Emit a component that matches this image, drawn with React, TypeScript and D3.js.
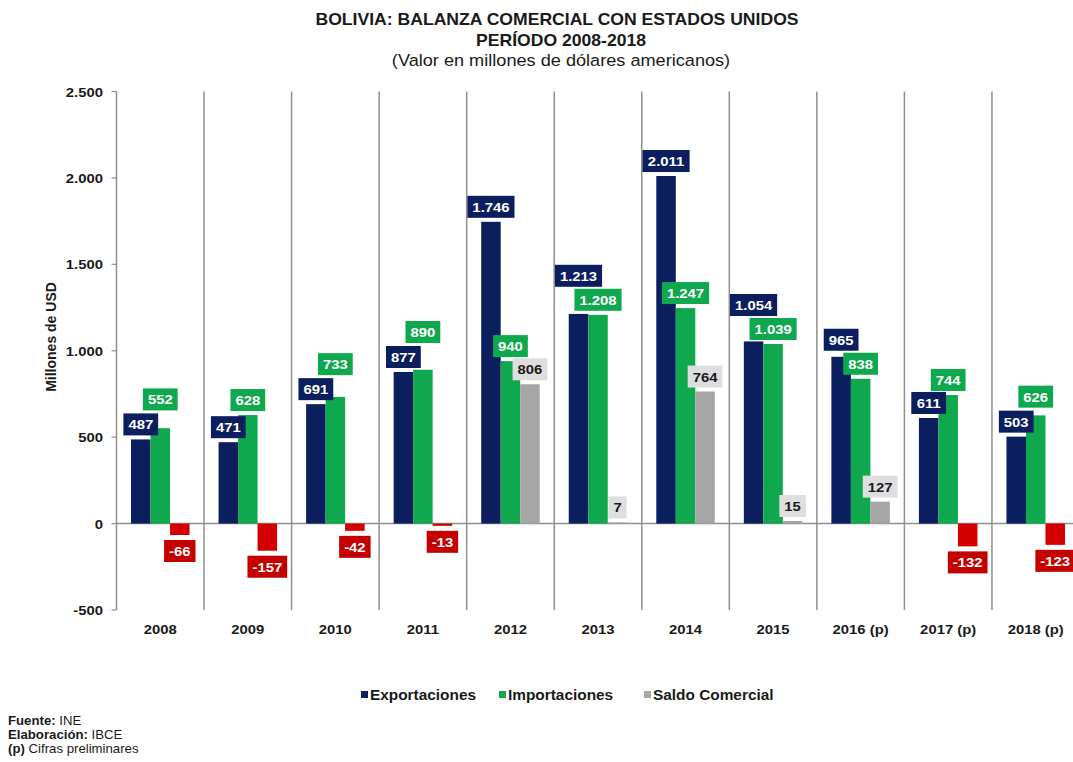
import React from "react";
import * as d3 from "d3";

const categories = ["2008", "2009", "2010", "2011", "2012", "2013", "2014", "2015", "2016 (p)", "2017 (p)", "2018 (p)"];
const exportaciones = [487, 471, 691, 877, 1746, 1213, 2011, 1054, 965, 611, 503];
const importaciones = [552, 628, 733, 890, 940, 1208, 1247, 1039, 838, 744, 626];
const saldoComercial = [-66, -157, -42, -13, 806, 7, 764, 15, 127, -132, -123];
const yTicks = [-500, 0, 500, 1000, 1500, 2000, 2500];
const seriesNames = ["Exportaciones", "Importaciones", "Saldo Comercial"];

const W = 1073;
const H = 762;
const SX = 1.1;
const FONT = "'Liberation Sans', Arial, Helvetica, sans-serif";
const NAVY = "#0b1f5e";
const GREEN = "#10a84f";
const GRAY = "#a6a6a6";
const RED = "#d40000";
const RED_BOX = "#c40000";
const GRAY_BOX = "#dedede";

const locale = d3.formatLocale({ decimal: ",", thousands: ".", grouping: [3], currency: ["", ""], minus: "-" });
const fmt = locale.format(",d");

const EM: Record<string, number> = { ".": 0.278, "-": 0.333 };
function textW(s: string, size: number) {
  let w = 0;
  for (const c of s) w += EM[c] ?? 0.556;
  return w * size * SX;
}

function T(props: { x: number; y: number; anchor?: string; size: number; weight?: string | number; fill?: string; children: React.ReactNode; rotate?: number }) {
  const { x, y, anchor = "start", size, weight = "normal", fill = "#1a1a1a", children, rotate } = props;
  const tr = rotate ? `translate(${x},${y}) rotate(${rotate})` : `translate(${x},${y}) scale(${SX},1)`;
  return (
    <text transform={tr} textAnchor={anchor as any} fontSize={size} fontWeight={weight} fill={fill} fontFamily={FONT}>
      {children}
    </text>
  );
}

export default function App() {
  const x0 = d3.scaleBand<string>().domain(categories).range([116.5, 1079.5]).paddingInner(0).paddingOuter(0);
  const x1 = d3.scaleBand<string>().domain(seriesNames).range([0, x0.bandwidth()]).paddingInner(0).paddingOuter(0.744);
  const y = d3.scaleLinear().domain([-500, 2500]).range([610, 91.5]);
  const bw = x1.bandwidth();
  const LBL = 13.5;
  const BH = 22;

  const bars: React.ReactNode[] = [];
  const labels: React.ReactNode[] = [];

  categories.forEach((c, i) => {
    const vals = [exportaciones[i], importaciones[i], saldoComercial[i]];
    const xs = seriesNames.map((s) => (x0(c) as number) + (x1(s) as number));
    const colors = [NAVY, GREEN, vals[2] < 0 ? RED : GRAY];
    vals.forEach((v, k) => {
      const top = y(Math.max(0, v));
      const bot = y(Math.min(0, v));
      bars.push(<rect key={`b${i}-${k}`} x={xs[k]} y={top} width={bw} height={bot - top} fill={colors[k]} />);
    });

    let expBottom = y(vals[0]) - 4;
    let impBottom = y(vals[1]) - 4;
    if (Math.abs(impBottom - expBottom) < BH) {
      if (vals[1] >= vals[0]) impBottom = expBottom - BH - 3;
      else expBottom = impBottom - BH - 2;
    }
    const boxes: { cx: number; top: number; text: string; bg: string; fg: string }[] = [
      { cx: xs[0] + bw / 2, top: expBottom - BH, text: fmt(vals[0]), bg: NAVY, fg: "#ffffff" },
      { cx: xs[1] + bw / 2, top: impBottom - BH, text: fmt(vals[1]), bg: GREEN, fg: "#ffffff" },
    ];
    if (vals[2] >= 0) {
      boxes.push({ cx: xs[2] + bw / 2, top: y(vals[2]) - 4 - BH, text: fmt(vals[2]), bg: GRAY_BOX, fg: "#1a1a1a" });
    } else {
      boxes.push({ cx: xs[2] + bw / 2, top: y(vals[2]) + 5, text: fmt(vals[2]), bg: RED_BOX, fg: "#ffffff" });
    }
    boxes.forEach((b, k) => {
      const w = textW(b.text, LBL) + 10;
      labels.push(
        <g key={`l${i}-${k}`}>
          <rect x={b.cx - w / 2} y={b.top} width={w} height={BH} fill={b.bg} />
          <T x={b.cx} y={b.top + BH / 2 + 5} anchor="middle" size={LBL} weight="bold" fill={b.fg}>
            {b.text}
          </T>
        </g>
      );
    });
  });

  const legendItems = [
    { name: seriesNames[0], color: NAVY, x: 361 },
    { name: seriesNames[1], color: GREEN, x: 499 },
    { name: seriesNames[2], color: GRAY, x: 644 },
  ];

  return (
    <svg width={W} height={H} style={{ position: "absolute", left: 0, top: 0, background: "#ffffff" }}>
      <rect x={0} y={0} width={W} height={H} fill="#ffffff" />
      <T x={557} y={25} anchor="middle" size={16} weight="bold">BOLIVIA: BALANZA COMERCIAL CON ESTADOS UNIDOS</T>
      <T x={561} y={46} anchor="middle" size={16} weight="bold">PERÍODO 2008-2018</T>
      <T x={561} y={66} anchor="middle" size={16.5}>(Valor en millones de dólares americanos)</T>

      {categories.map((c, i) => (
        <line key={`s${i}`} x1={(x0(c) as number) + x0.bandwidth()} x2={(x0(c) as number) + x0.bandwidth()} y1={y(2500)} y2={y(-500)} stroke="#8f8f8f" strokeWidth={1.5} />
      ))}
      <line x1={116.5} x2={1079.5} y1={y(0)} y2={y(0)} stroke="#8f8f8f" strokeWidth={1.5} />

      {bars}
      {labels}

      <line x1={116.5} x2={116.5} y1={y(2500)} y2={y(-500)} stroke="#8f8f8f" strokeWidth={1.5} />
      {yTicks.map((t) => (
        <g key={`t${t}`}>
          <line x1={111.5} x2={116.5} y1={y(t)} y2={y(t)} stroke="#8f8f8f" strokeWidth={1.2} />
          <T x={103} y={y(t) + 5} anchor="end" size={13.5} weight="bold">{fmt(t)}</T>
        </g>
      ))}
      <T x={56} y={337} anchor="middle" size={14} weight="bold" rotate={-90}>Millones de USD</T>

      {categories.map((c) => (
        <T key={`x${c}`} x={(x0(c) as number) + x0.bandwidth() / 2} y={634} anchor="middle" size={13.5} weight="bold">{c}</T>
      ))}

      {legendItems.map((l) => (
        <g key={l.name}>
          <rect x={l.x} y={691} width={7} height={7} fill={l.color} />
          <T x={l.x + 9} y={700} size={14} weight="bold">{l.name}</T>
        </g>
      ))}

      <text transform={`translate(8,725) scale(${SX},1)`} fontSize={12} fontFamily={FONT} fill="#1a1a1a">
        <tspan fontWeight="bold">Fuente:</tspan> INE
      </text>
      <text transform={`translate(8,739) scale(${SX},1)`} fontSize={12} fontFamily={FONT} fill="#1a1a1a">
        <tspan fontWeight="bold">Elaboración:</tspan> IBCE
      </text>
      <text transform={`translate(8,753) scale(${SX},1)`} fontSize={12} fontFamily={FONT} fill="#1a1a1a">
        <tspan fontWeight="bold">(p)</tspan> Cifras preliminares
      </text>
    </svg>
  );
}
